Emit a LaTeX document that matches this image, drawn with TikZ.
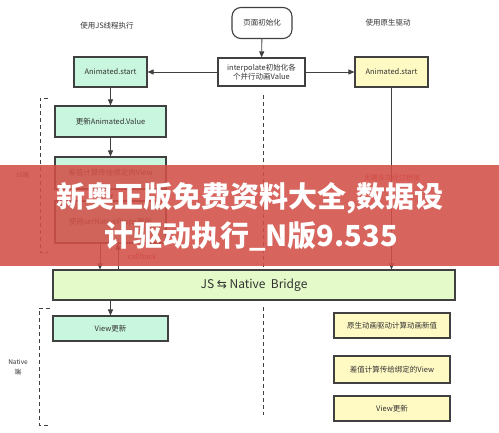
\documentclass[tikz,border=0pt]{standalone}
\usepackage{fontspec}
\setmainfont{Noto Sans CJK SC}
\newfontfamily\djv{DejaVu Sans}
\usetikzlibrary{arrows.meta}
\definecolor{mint}{RGB}{200,246,222}
\definecolor{lemon}{RGB}{255,250,196}
\definecolor{lime}{RGB}{228,250,200}
\definecolor{edge}{RGB}{64,64,64}
\definecolor{txt}{RGB}{50,50,50}
\definecolor{redlab}{RGB}{200,45,45}
\definecolor{banner}{RGB}{210,80,72}
\tikzset{
  box/.style={draw=edge, line width=1.1pt, inner sep=0pt, text=txt, align=center},
  jsbox/.style={box, fill=mint},
  natbox/.style={box, fill=lemon},
  arr/.style={draw=edge, line width=0.9pt, -{Triangle[length=6pt,width=5pt]}},
  dashline/.style={draw=edge, line width=0.9pt, dash pattern=on 4pt off 3pt},
  lab/.style={text=txt, inner sep=0pt},
  redtxt/.style={text=redlab, inner sep=0pt},
  bantxt/.style={text=white, inner sep=0pt, font=\fontsize{29}{30}\selectfont\bfseries}
}
\begin{document}
\begin{tikzpicture}[x=1pt,y=-1pt, font=\fontsize{7.5}{9}\selectfont]
\useasboundingbox (0,0) rectangle (499,433);
\fill[white] (0,0) rectangle (499,433);

% headings
\node[lab] (hjs) at (107,26) {使用JS线程执行};
\node[lab] (hnat) at (388,23) {使用原生驱动};

% top nodes
\node[box, rounded corners=9pt, minimum width=60pt, minimum height=31pt] (page) at (262,23) {页面初始化};
\node[box, minimum width=87pt, minimum height=28pt, font=\fontsize{7.5}{9.5}\selectfont] (interp) at (261.5,72) {interpolate初始化各\\个并行动画Value};
\node[jsbox, minimum width=73pt, minimum height=30pt] (startL) at (110.5,72) {Animated.start};
\node[natbox, minimum width=73pt, minimum height=30pt] (startR) at (391.5,72) {Animated.start};

% JS side
\node[jsbox, minimum width=111pt, minimum height=31pt] (upd) at (110.5,121.5) {更新Animated.Value};
\node[jsbox, minimum width=111pt, minimum height=32pt] (calcL) at (110.5,173) {差值计算传给绑定的View};
\node[jsbox, minimum width=111pt, minimum height=42pt] (setp) at (110.5,222) {使用setNativeProps更新};

% bridge
\node[box, fill=lime, minimum width=402pt, minimum height=30pt, font=\fontsize{12}{14}\selectfont] (bridge) at (254,285) {JS {\djv ⇆} Native\ \ Bridge};

% native side
\node[jsbox, minimum width=115pt, minimum height=25pt] (viewL) at (110.5,328.5) {View更新};
\node[natbox, minimum width=116pt, minimum height=25pt] (natcalc) at (392,325.5) {原生动画驱动计算动画新值};
\node[natbox, minimum width=116pt, minimum height=27pt] (calcR) at (392,369.5) {差值计算传给绑定的View};
\node[natbox, minimum width=116pt, minimum height=25pt] (viewR) at (392,408.5) {View更新};

% connectors
\draw[arr] (page) -- (interp);
\draw[arr] (interp) -- (startL);
\draw[arr] (interp) -- (startR);
\draw[arr] (startL) -- (upd);
\draw[arr] (upd) -- (calcL);
\draw[arr] (calcL) -- (setp);
\coordinate (dlx) at (100,0);
\coordinate (ulx) at (118,0);
\draw[arr] (setp.south -| dlx) -- (bridge.north -| dlx);
\draw[arr] (bridge.north -| ulx) -- (setp.south -| ulx);
\draw[arr] (startR.south) -- (bridge.north -| startR);
\draw[arr] (bridge.south -| viewL) -- (viewL.north);

\node[redtxt] (cb) at (142,257) {callback};
\node[redtxt, font=\fontsize{7}{8}\selectfont] (nobr) at (392,178) {无需多次经过桥接};

% dashed dividers
\coordinate (m1) at (263,95);
\coordinate (m2) at (263,270);
\coordinate (m3) at (263,307);
\coordinate (m4) at (263,415);
\draw[dashline] (m1) -- (m2);
\draw[dashline] (m3) -- (m4);

% brackets
\draw[dashline] (48,98) -- (40,98) -- (40,252) -- (48,252);
\draw[dashline] (50,308) -- (39,308) -- (39,425) -- (50,425);
\node[lab, font=\fontsize{6.5}{8}\selectfont] (jsend) at (22,175) {JS端};
\node[lab, font=\fontsize{6.5}{10}\selectfont, align=center] (natend) at (18,367) {Native\\端};

% banner overlay
\fill[banner, opacity=0.88] (0,165) rectangle (499,266);
\node[bantxt] (b1) at (250,198) {新奥正版免费资料大全,数据设};
\node[bantxt] (b2) at (251,236) {计驱动执行\_N版9.535};
\end{tikzpicture}
\end{document}
